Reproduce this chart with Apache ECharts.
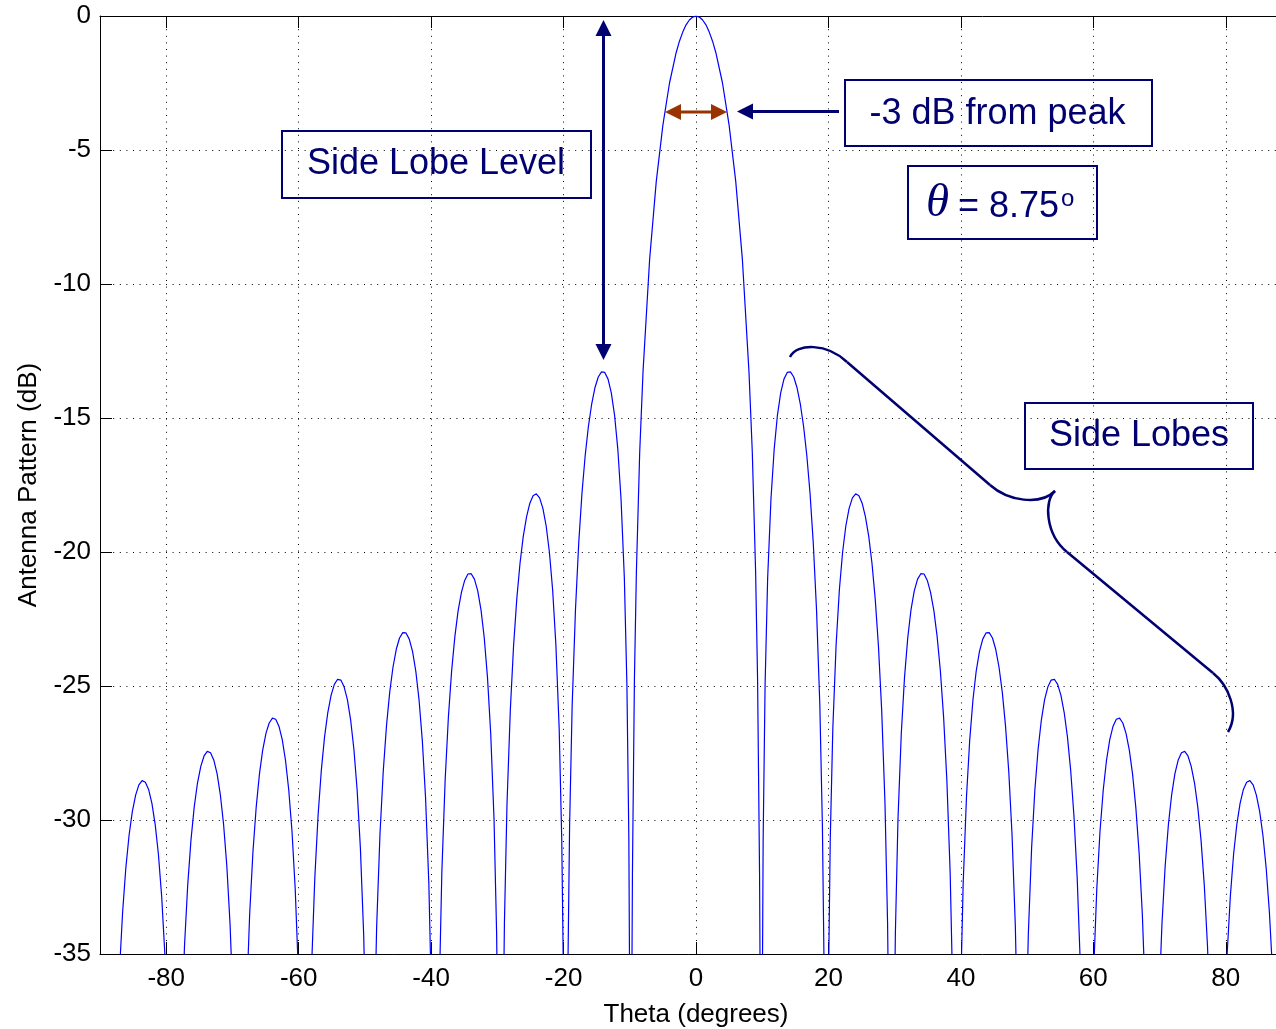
<!DOCTYPE html>
<html>
<head>
<meta charset="utf-8">
<script src="https://cdn.jsdelivr.net/npm/echarts@6/dist/echarts.min.js"></script>
<style>
html,body{margin:0;padding:0;background:#fff;}
#chart{width:1276px;height:1029px;}
</style>
</head>
<body>
<div id="chart"></div>
<script>
// ---- data (theta in degrees, pattern in dB) ----
const thetaDeg = [
  -88.46,-88.27,-87.97,-87.58,-87.08,-86.59,-86.10,-85.61,-85.12,-84.62,-84.13,-83.64,-83.15,-82.66,-82.16,-81.67,-81.18,-80.69,-80.20,-79.70,-79.31,-79.02,-78.82,
  -78.62,-78.43,-78.13,-77.74,-77.24,-76.75,-76.26,-75.77,-75.28,-74.78,-74.29,-73.80,-73.31,-72.82,-72.32,-71.83,-71.34,-70.85,-70.36,-69.86,-69.47,-69.18,-68.98,
  -68.78,-68.59,-68.29,-67.90,-67.40,-66.91,-66.42,-65.93,-65.44,-64.94,-64.45,-63.96,-63.47,-62.98,-62.48,-61.99,-61.50,-61.01,-60.52,-60.02,-59.63,-59.34,-59.14,
  -58.94,-58.75,-58.45,-58.06,-57.56,-57.07,-56.58,-56.09,-55.60,-55.10,-54.61,-54.12,-53.63,-53.14,-52.64,-52.15,-51.66,-51.17,-50.68,-50.18,-49.79,-49.50,-49.30,
  -49.10,-48.91,-48.61,-48.22,-47.72,-47.23,-46.74,-46.25,-45.76,-45.26,-44.77,-44.28,-43.79,-43.30,-42.80,-42.31,-41.82,-41.33,-40.84,-40.34,-39.95,-39.66,-39.46,
  -39.26,-39.06,-38.77,-38.38,-37.88,-37.39,-36.90,-36.41,-35.92,-35.42,-34.93,-34.44,-33.95,-33.46,-32.96,-32.47,-31.98,-31.49,-31.00,-30.50,-30.11,-29.82,-29.62,
  -29.42,-29.22,-28.93,-28.54,-28.04,-27.55,-27.06,-26.57,-26.08,-25.58,-25.09,-24.60,-24.11,-23.62,-23.12,-22.63,-22.14,-21.65,-21.16,-20.66,-20.27,-19.98,-19.78,
  -19.58,-19.38,-19.09,-18.70,-18.20,-17.71,-17.22,-16.73,-16.24,-15.74,-15.25,-14.76,-14.27,-13.78,-13.28,-12.79,-12.30,-11.81,-11.32,-10.82,-10.43,-10.14,-9.94,
  -9.7,-9.6,-9.3,-9,-8.5,-8,-7,-6,-5,-4,-3,-2.5,-2,-1.5,-1,-0.5,
  0,
  0.5,1,1.5,2,2.5,3,4,5,6,7,8,8.5,9,9.3,9.6,9.7,
  9.94,10.14,10.43,10.82,11.32,11.81,12.30,12.79,13.28,13.78,14.27,14.76,15.25,15.74,16.24,16.73,17.22,17.71,18.20,18.70,19.09,19.38,19.58,
  19.78,19.98,20.27,20.66,21.16,21.65,22.14,22.63,23.12,23.62,24.11,24.60,25.09,25.58,26.08,26.57,27.06,27.55,28.04,28.54,28.93,29.22,29.42,
  29.62,29.82,30.11,30.50,31.00,31.49,31.98,32.47,32.96,33.46,33.95,34.44,34.93,35.42,35.92,36.41,36.90,37.39,37.88,38.38,38.77,39.06,39.26,
  39.46,39.66,39.95,40.34,40.84,41.33,41.82,42.31,42.80,43.30,43.79,44.28,44.77,45.26,45.76,46.25,46.74,47.23,47.72,48.22,48.61,48.91,49.10,
  49.30,49.50,49.79,50.18,50.68,51.17,51.66,52.15,52.64,53.14,53.63,54.12,54.61,55.10,55.60,56.09,56.58,57.07,57.56,58.06,58.45,58.75,58.94,
  59.14,59.34,59.63,60.02,60.52,61.01,61.50,61.99,62.48,62.98,63.47,63.96,64.45,64.94,65.44,65.93,66.42,66.91,67.40,67.90,68.29,68.59,68.78,
  68.98,69.18,69.47,69.86,70.36,70.85,71.34,71.83,72.32,72.82,73.31,73.80,74.29,74.78,75.28,75.77,76.26,76.75,77.24,77.74,78.13,78.43,78.62,
  78.82,79.02,79.31,79.70,80.20,80.69,81.18,81.67,82.16,82.66,83.15,83.64,84.13,84.62,85.12,85.61,86.10,86.59,87.08,87.58,87.97,88.27,88.46
];
const patternDb = [
  -59.08,-49.53,-43.52,-39.13,-35.74,-33.45,-31.79,-30.57,-29.69,-29.07,-28.69,-28.53,-28.59,-28.86,-29.38,-30.16,-31.28,-32.84,-35.03,-38.31,-42.62,-48.57,-58.08,
  -58.05,-48.50,-42.49,-38.10,-34.70,-32.41,-30.74,-29.51,-28.62,-28.00,-27.61,-27.44,-27.49,-27.76,-28.27,-29.05,-30.16,-31.71,-33.89,-37.17,-41.47,-47.41,-56.92,
  -56.89,-47.34,-41.32,-36.92,-33.52,-31.21,-29.54,-28.30,-27.40,-26.77,-26.38,-26.20,-26.24,-26.50,-27.00,-27.77,-28.87,-30.41,-32.58,-35.85,-40.14,-46.08,-55.58,
  -55.55,-45.99,-39.97,-35.56,-32.15,-29.83,-28.15,-26.90,-25.99,-25.34,-24.94,-24.75,-24.78,-25.03,-25.51,-26.27,-27.36,-28.88,-31.04,-34.29,-38.58,-44.50,-54.00,
  -53.97,-44.40,-38.37,-33.95,-30.52,-28.19,-26.49,-25.23,-24.30,-23.63,-23.21,-23.01,-23.02,-23.25,-23.72,-24.45,-25.52,-27.03,-29.16,-32.40,-36.66,-42.58,-52.07,
  -52.02,-42.45,-36.40,-31.96,-28.51,-26.16,-24.43,-23.15,-22.19,-21.51,-21.06,-20.82,-20.81,-21.01,-21.45,-22.15,-23.19,-24.67,-26.77,-29.97,-34.21,-40.10,-49.57,
  -49.52,-39.93,-33.86,-29.39,-25.90,-23.51,-21.74,-20.41,-19.41,-18.68,-18.18,-17.90,-17.83,-17.98,-18.37,-19.02,-20.00,-21.41,-23.45,-26.59,-30.77,-36.62,-46.07,
  -45.98,-36.36,-30.25,-25.72,-22.15,-19.67,-17.81,-16.39,-15.30,-14.46,-13.86,-13.47,-13.28,-13.30,-13.55,-14.06,-14.89,-16.15,-18.02,-20.97,-25.00,-30.73,-40.09,
  -36.82,-32.05,-24.77,-20.73,-16.27,-13.27,-9.07,-6.17,-4.07,-2.50,-1.37,-0.94,-0.60,-0.33,-0.15,-0.04,
  0,
  -0.04,-0.15,-0.33,-0.60,-0.94,-1.37,-2.50,-4.07,-6.17,-9.07,-13.27,-16.27,-20.73,-24.77,-32.05,-36.82,
  -40.09,-30.73,-25.00,-20.97,-18.02,-16.15,-14.89,-14.06,-13.55,-13.30,-13.28,-13.47,-13.86,-14.46,-15.30,-16.39,-17.81,-19.67,-22.15,-25.72,-30.25,-36.36,-45.98,
  -46.07,-36.62,-30.77,-26.59,-23.45,-21.41,-20.00,-19.02,-18.37,-17.98,-17.83,-17.90,-18.18,-18.68,-19.41,-20.41,-21.74,-23.51,-25.90,-29.39,-33.86,-39.93,-49.52,
  -49.57,-40.10,-34.21,-29.97,-26.77,-24.67,-23.19,-22.15,-21.45,-21.01,-20.81,-20.82,-21.06,-21.51,-22.19,-23.15,-24.43,-26.16,-28.51,-31.96,-36.40,-42.45,-52.02,
  -52.07,-42.58,-36.66,-32.40,-29.16,-27.03,-25.52,-24.45,-23.72,-23.25,-23.02,-23.01,-23.21,-23.63,-24.30,-25.23,-26.49,-28.19,-30.52,-33.95,-38.37,-44.40,-53.97,
  -54.00,-44.50,-38.58,-34.29,-31.04,-28.88,-27.36,-26.27,-25.51,-25.03,-24.78,-24.75,-24.94,-25.34,-25.99,-26.90,-28.15,-29.83,-32.15,-35.56,-39.97,-45.99,-55.55,
  -55.58,-46.08,-40.14,-35.85,-32.58,-30.41,-28.87,-27.77,-27.00,-26.50,-26.24,-26.20,-26.38,-26.77,-27.40,-28.30,-29.54,-31.21,-33.52,-36.92,-41.32,-47.34,-56.89,
  -56.92,-47.41,-41.47,-37.17,-33.89,-31.71,-30.16,-29.05,-28.27,-27.76,-27.49,-27.44,-27.61,-28.00,-28.62,-29.51,-30.74,-32.41,-34.70,-38.10,-42.49,-48.50,-58.05,
  -58.08,-48.57,-42.62,-38.31,-35.03,-32.84,-31.28,-30.16,-29.38,-28.86,-28.59,-28.53,-28.69,-29.07,-29.69,-30.57,-31.79,-33.45,-35.74,-39.13,-43.52,-49.53,-59.08
];
const xTickValues = [-80, -60, -40, -20, 0, 20, 40, 60, 80];
const xAxisTitle = 'Theta (degrees)';
const yAxisTitle = 'Antenna Pattern (dB)';
const labelSideLobeLevel = 'Side Lobe Level';
const labelMinus3dB = '-3 dB from peak';
const labelThetaSymbol = 'θ';
const labelThetaValue = '= 8.75';
const labelDegree = 'o';
const labelSideLobes = 'Side Lobes';

// ---- styles ----
const FONT = '"Liberation Sans", Arial, Helvetica, sans-serif';
const NAVY = '#000070';
const BROWN = '#993300';

function box(x, y, w, h) {
  return { type: 'rect', z: 10, shape: { x: x, y: y, width: w, height: h },
           style: { fill: 'none', stroke: NAVY, lineWidth: 2 } };
}
function txt(x, y, text, size, opts) {
  return { type: 'text', z: 11, x: x, y: y,
           style: Object.assign({ text: text, fontSize: size, fontFamily: FONT, fill: NAVY,
                                  align: 'center', verticalAlign: 'middle' }, opts || {}) };
}
function seg(x1, y1, x2, y2, color, w) {
  return { type: 'line', z: 10, shape: { x1: x1, y1: y1, x2: x2, y2: y2 },
           style: { stroke: color, lineWidth: w, lineCap: 'butt' } };
}
function tri(pts, color) {
  return { type: 'polygon', z: 10, shape: { points: pts }, style: { fill: color } };
}
function bez(x1, y1, c1x, c1y, c2x, c2y, x2, y2) {
  return { type: 'bezierCurve', z: 10,
           shape: { x1: x1, y1: y1, cpx1: c1x, cpy1: c1y, cpx2: c2x, cpy2: c2y, x2: x2, y2: y2 },
           style: { stroke: NAVY, lineWidth: 2.5, fill: 'none' } };
}

const chart = echarts.init(document.getElementById('chart'), null, { renderer: 'canvas' });

const axisLineStyle = { color: '#000', width: 1 };
const gridLineStyle = { color: '#000', width: 1, type: [1, 5.6] };

const option = {
  animation: false,
  backgroundColor: '#fff',
  grid: { left: 100, top: 16, width: 1192, height: 938, containLabel: false, outerBoundsMode: 'none' },
  xAxis: [{
    type: 'value', min: -90, max: 90,
    name: xAxisTitle, nameLocation: 'middle', nameGap: 48,
    nameTextStyle: { fontSize: 26, fontFamily: FONT, color: '#000' },
    axisLine: { show: true, onZero: false, lineStyle: axisLineStyle },
    axisTick: { show: true, inside: true, length: 12, customValues: xTickValues, lineStyle: axisLineStyle },
    axisLabel: { show: true, customValues: xTickValues, fontSize: 26, fontFamily: FONT, color: '#000', margin: 12 },
    splitLine: { show: true, lineStyle: gridLineStyle }
  }, {
    type: 'value', min: -90, max: 90, position: 'top',
    axisLine: { show: true, onZero: false, lineStyle: axisLineStyle },
    axisTick: { show: true, inside: true, length: 12, customValues: xTickValues, lineStyle: axisLineStyle },
    axisLabel: { show: false },
    splitLine: { show: false }
  }],
  yAxis: [{
    type: 'value', min: -35, max: 0, interval: 5,
    name: yAxisTitle, nameLocation: 'middle', nameGap: 58,
    nameTextStyle: { fontSize: 26, fontFamily: FONT, color: '#000' },
    axisLine: { show: true, onZero: false, lineStyle: axisLineStyle },
    axisTick: { show: true, inside: true, length: 12, lineStyle: axisLineStyle },
    axisLabel: { show: true, fontSize: 26, fontFamily: FONT, color: '#000', margin: 9 },
    splitLine: { show: true, lineStyle: gridLineStyle }
  }],
  series: [{
    type: 'line',
    xAxisIndex: 0, yAxisIndex: 0,
    data: thetaDeg.map(function (t, i) { return [t, patternDb[i]]; }),
    showSymbol: false, symbol: 'none', clip: true, silent: true,
    lineStyle: { color: '#0000ff', width: 1.2 }
  }],
  graphic: { elements: [
    // Side Lobe Level box and vertical double arrow
    box(282, 131, 309, 67),
    txt(436, 164, labelSideLobeLevel, 36),
    seg(603.5, 34, 603.5, 346, NAVY, 3),
    tri([[603.5, 20], [595.5, 36], [611.5, 36]], NAVY),
    tri([[603.5, 360], [595.5, 344], [611.5, 344]], NAVY),
    // -3 dB brown double arrow
    seg(679, 112, 713, 112, BROWN, 3),
    tri([[665, 112], [681, 104], [681, 120]], BROWN),
    tri([[727, 112], [711, 104], [711, 120]], BROWN),
    // navy arrow pointing to the main lobe
    seg(751, 111.5, 839, 111.5, NAVY, 3),
    tri([[737, 111.5], [753, 103.5], [753, 119.5]], NAVY),
    // -3 dB box
    box(845, 80, 307, 66),
    txt(997.5, 114, labelMinus3dB, 36),
    // theta box
    box(908, 166, 189, 73),
    txt(926, 204, labelThetaSymbol, 47, { fontFamily: '"Liberation Serif", "Times New Roman", serif', fontStyle: 'italic', align: 'left' }),
    txt(958, 207, labelThetaValue, 36, { align: 'left' }),
    txt(1061, 199, labelDegree, 24, { align: 'left' }),
    // Side Lobes box
    box(1025, 403, 228, 66),
    txt(1139, 436, labelSideLobes, 36),
    // curly brace
    bez(790, 357, 797, 343, 827, 343, 847, 362),
    seg(847, 362, 990, 485, NAVY, 2.5),
    bez(990, 485, 1008, 501, 1040, 506, 1055, 491),
    bez(1055, 491, 1044, 500, 1045, 534, 1067, 552),
    seg(1067, 552, 1213, 673, NAVY, 2.5),
    bez(1213, 673, 1228, 685, 1240, 712, 1228, 732)
  ]}
};
chart.setOption(option);
</script>
</body>
</html>
